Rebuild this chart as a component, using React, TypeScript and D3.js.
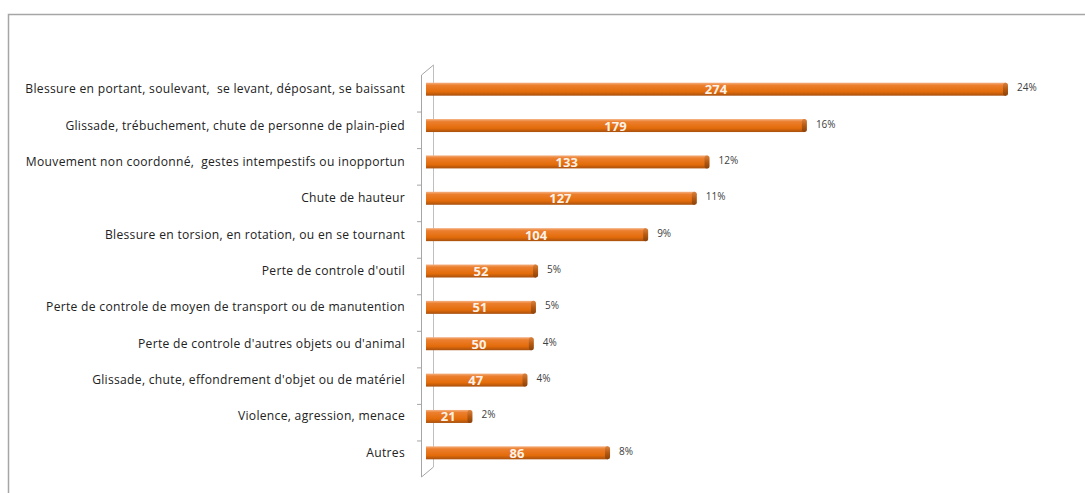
import React from "react";
import * as d3 from "d3";

const categories = [
  "Blessure en portant, soulevant,  se levant, déposant, se baissant",
  "Glissade, trébuchement, chute de personne de plain-pied",
  "Mouvement non coordonné,  gestes intempestifs ou inopportun",
  "Chute de hauteur",
  "Blessure en torsion, en rotation, ou en se tournant",
  "Perte de controle d'outil",
  "Perte de controle de moyen de transport ou de manutention",
  "Perte de controle d'autres objets ou d'animal",
  "Glissade, chute, effondrement d'objet ou de matériel",
  "Violence, agression, menace",
  "Autres",
];
const values = [274, 179, 133, 127, 104, 52, 51, 50, 47, 21, 86];
const percents = ["24%", "16%", "12%", "11%", "9%", "5%", "5%", "4%", "4%", "2%", "8%"];

const W = 1085;
const H = 493;

export default function App() {
  const x = d3.scaleLinear().domain([0, 274]).range([426, 1006]);
  const y = d3.scaleBand<string>().domain(categories).range([71, 471]).paddingInner(0);
  const yFront = d3.scaleBand<string>().domain(categories).range([75, 477]);
  const barH = 13;
  const font = "'Open Sans', 'Liberation Sans', sans-serif";
  return (
    <svg width={W} height={H} style={{ position: "absolute", left: 0, top: 0, background: "#fff" }}>
      <defs>
        <linearGradient id="barg" x1="0" y1="0" x2="0" y2="1">
          <stop offset="0" stopColor="#F4B183" />
          <stop offset="0.2" stopColor="#EC7F2E" />
          <stop offset="0.7" stopColor="#E36C0A" />
          <stop offset="1" stopColor="#A8500E" />
        </linearGradient>
        <linearGradient id="capg" x1="0" y1="0" x2="0" y2="1">
          <stop offset="0" stopColor="#D9823F" />
          <stop offset="0.5" stopColor="#B65A12" />
          <stop offset="1" stopColor="#8A420C" />
        </linearGradient>
      </defs>
      {/* frame */}
      <path d={`M8.5,${H + 2} V14.5 H${W + 2}`} fill="none" stroke="#A6A6A6" strokeWidth={1.5} />
      {/* 3D wall axis */}
      <line x1={433.5} y1={65} x2={433.5} y2={467} stroke="#BFBFBF" strokeWidth={1} />
      <line x1={421.5} y1={75} x2={421.5} y2={477} stroke="#A6A6A6" strokeWidth={1} />
      <line x1={421.5} y1={75} x2={433.5} y2={65} stroke="#A6A6A6" strokeWidth={1} />
      <line x1={421.5} y1={477} x2={433.5} y2={467} stroke="#A6A6A6" strokeWidth={1} />
      {categories.slice(1).map((c) => (
        <line key={"t" + c} x1={417} x2={421.5} y1={yFront(c)! + 0.5} y2={yFront(c)! + 0.5} stroke="#A6A6A6" />
      ))}
      {categories.map((c, i) => {
        const cy = y(c)! + y.bandwidth() / 2;
        const x0 = x(0);
        const x1 = x(values[i]);
        return (
          <g key={c}>
            <text x={405} y={cy + 4} textAnchor="end" fontFamily={font} fontSize={12.1} letterSpacing={0.3} fill="#222222" style={{ whiteSpace: "pre" }}>
              {c}
            </text>
            <rect x={x0} y={cy - barH / 2} width={x1 - x0} height={barH} fill="url(#barg)" />
            <rect x={x1 - 3} y={cy - barH / 2} width={5} height={barH} rx={2.5} fill="url(#capg)" />
            <text x={(x0 + x1) / 2} y={cy + 5} textAnchor="middle" fontFamily={font} fontWeight="bold" fontSize={13} fill="#FDF2E9">
              {values[i]}
            </text>
            <text x={x1 + 11} y={cy + 2} fontFamily={font} fontSize={10} fill="#404040">
              {percents[i]}
            </text>
          </g>
        );
      })}
    </svg>
  );
}
